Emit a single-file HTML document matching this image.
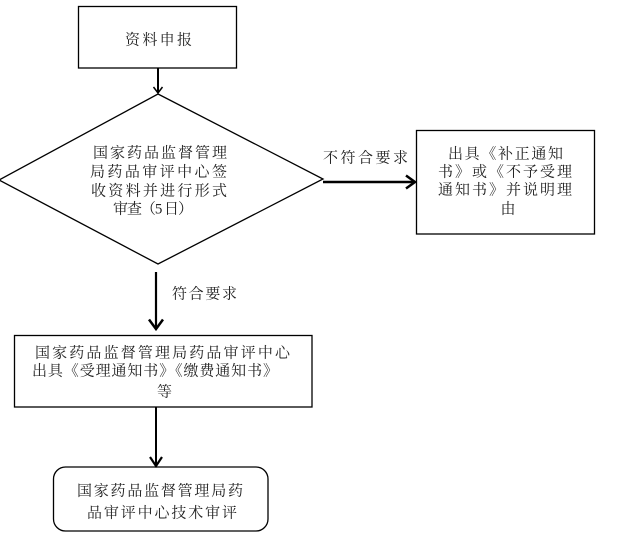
<!DOCTYPE html>
<html>
<head>
<meta charset="utf-8">
<style>
html,body{margin:0;padding:0;background:#fff;}
svg{display:block;}
text{font-family:"Liberation Serif","Noto Serif CJK SC",serif;font-size:15px;fill:#222;}
</style>
</head>
<body>
<svg width="637" height="541" viewBox="0 0 637 541" xmlns="http://www.w3.org/2000/svg">
  <!-- top box -->
  <rect x="78.5" y="6.5" width="158" height="61.5" fill="none" stroke="#000" stroke-width="1.3"/>
  <text x="125" y="44.5" textLength="67" lengthAdjust="spacing">资料申报</text>

  <!-- arrow top -> diamond -->
  <line x1="158" y1="68" x2="158" y2="93" stroke="#000" stroke-width="2"/>
  <polyline points="153.5,87 158,93 162.5,87" fill="none" stroke="#000" stroke-width="1.5"/>

  <!-- diamond -->
  <polygon points="158,94 323,179 158,264 -1,180" fill="none" stroke="#000" stroke-width="1.3"/>
  <text x="93" y="157.5" textLength="134" lengthAdjust="spacing">国家药品监督管理</text>
  <text x="90" y="176.5" textLength="137" lengthAdjust="spacing">局药品审评中心签</text>
  <text x="91" y="195.5" textLength="136" lengthAdjust="spacing">收资料并进行形式</text>
  <text x="113" y="213.5" textLength="80" lengthAdjust="spacing">审查（5 日）</text>

  <!-- right arrow -->
  <line x1="323" y1="182" x2="414" y2="182" stroke="#000" stroke-width="2.5"/>
  <polyline points="406,175.5 415,182 406,188.5" fill="none" stroke="#000" stroke-width="2.5"/>
  <text x="323" y="162.5" textLength="85" lengthAdjust="spacing">不符合要求</text>

  <!-- right box -->
  <rect x="416.5" y="130.5" width="178" height="103.5" fill="none" stroke="#000" stroke-width="1.3"/>
  <text x="448" y="158.5" textLength="115" lengthAdjust="spacing">出具《补正通知</text>
  <text x="438" y="176.5" textLength="134" lengthAdjust="spacing">书》或《不予受理</text>
  <text x="438" y="194.5" textLength="134" lengthAdjust="spacing">通知书》并说明理</text>
  <text x="500.5" y="213.5">由</text>

  <!-- arrow diamond -> middle box -->
  <line x1="156" y1="272" x2="156" y2="328" stroke="#000" stroke-width="2.2"/>
  <polyline points="149,319.5 156,329 163,319.5" fill="none" stroke="#000" stroke-width="2.5"/>
  <text x="172" y="298.5" textLength="65" lengthAdjust="spacing">符合要求</text>

  <!-- middle box -->
  <rect x="14.5" y="335.5" width="297.5" height="71.5" fill="none" stroke="#000" stroke-width="1.3"/>
  <text x="35" y="357.5" textLength="255" lengthAdjust="spacing">国家药品监督管理局药品审评中心</text>
  <text x="32" y="375.5" textLength="246" lengthAdjust="spacing">出具《受理通知书》《缴费通知书》</text>
  <text x="157" y="396.5">等</text>

  <!-- arrow middle -> bottom -->
  <line x1="156" y1="407" x2="156" y2="465" stroke="#000" stroke-width="2"/>
  <polyline points="150,457 156,466 162,457" fill="none" stroke="#000" stroke-width="2.2"/>

  <!-- bottom rounded box -->
  <rect x="53.5" y="467" width="214.5" height="64" rx="12" ry="12" fill="none" stroke="#000" stroke-width="1.3"/>
  <text x="77" y="495.5" textLength="166" lengthAdjust="spacing">国家药品监督管理局药</text>
  <text x="87" y="517.5" textLength="150" lengthAdjust="spacing">品审评中心技术审评</text>
</svg>
</body>
</html>
